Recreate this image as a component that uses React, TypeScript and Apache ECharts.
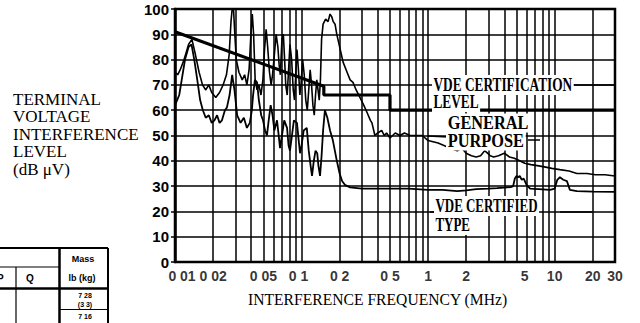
import React, { useEffect, useRef } from "react";
import * as echarts from "echarts";

// ---- Data ----
const yTicks = [0, 10, 20, 30, 40, 50, 60, 70, 80, 90, 100];

const xLabelFreqs = [0.01, 0.02, 0.05, 0.1, 0.2, 0.5, 1, 2, 5, 10, 20, 30];
const xLabelTexts = ["0 01", "0 02", "0 05", "0 1", "0 2", "0 5", "1", "2", "5", "10", "20", "30"];

const gridFreqs = [
  0.02, 0.03, 0.04, 0.05, 0.06, 0.07, 0.08, 0.09, 0.1,
  0.2, 0.3, 0.4, 0.5, 0.6, 0.7, 0.8, 0.9, 1,
  2, 3, 4, 5, 6, 7, 8, 9, 10, 20,
];

const vdeLevelFreq = [0.01, 0.15, 0.15, 0.5, 0.5, 30];
const vdeLevelVal = [91, 69.5, 66, 66, 60, 60];

const gpFreq = [
  0.01, 0.0105, 0.011, 0.0118, 0.0128, 0.0136, 0.0145, 0.0155, 0.0165, 0.0175,
  0.0185, 0.0195, 0.021, 0.0225, 0.024, 0.0255, 0.0268, 0.0277, 0.0283, 0.029,
  0.0297, 0.0305, 0.032, 0.034, 0.0355, 0.037, 0.0385, 0.0398, 0.0408, 0.0418,
  0.043, 0.0445, 0.046, 0.0478, 0.0495, 0.051, 0.0525, 0.054, 0.0558, 0.0575,
  0.059, 0.061, 0.063, 0.065, 0.0665, 0.068, 0.07, 0.0718, 0.0735, 0.075,
  0.077, 0.079, 0.081, 0.0835, 0.086, 0.088, 0.09, 0.092, 0.0945, 0.097,
  0.099, 0.102, 0.105, 0.108, 0.111, 0.114, 0.117, 0.12, 0.123, 0.126,
  0.129, 0.132, 0.135, 0.138, 0.141, 0.144, 0.148, 0.155, 0.162, 0.168,
  0.173, 0.178, 0.184, 0.19, 0.2, 0.213, 0.229, 0.242, 0.255, 0.27,
  0.29, 0.31, 0.33, 0.35, 0.36, 0.38, 0.4, 0.43, 0.45, 0.47,
  0.5, 0.55, 0.6, 0.65, 0.72, 0.8, 0.9, 1.0, 1.2, 1.5,
  1.7, 1.85, 2.0, 2.2, 2.4, 2.6, 2.8, 2.95, 3.1, 3.3,
  3.6, 4.0, 4.4, 4.8, 5.3, 5.8, 6.5, 7.5, 8.5, 9.5,
  11, 13, 15, 18, 21, 25, 30,
];
const gpVal = [
  75, 74, 76, 80, 86, 88, 82, 75, 70, 68,
  70, 67, 65, 67, 70, 74, 82, 95, 100, 100,
  90, 80, 75, 72, 74, 70, 76, 90, 98, 90,
  72, 68, 70, 66, 72, 84, 92, 85, 75, 70,
  74, 82, 90, 85, 78, 74, 88, 90, 80, 70,
  66, 76, 86, 80, 68, 64, 74, 84, 76, 66,
  70, 80, 74, 64, 60, 68, 76, 70, 62, 58,
  66, 72, 68, 64, 72, 88, 94, 96, 95, 98,
  97, 95, 94, 90, 85, 79, 75, 72, 71, 68,
  65, 62, 59, 56, 55, 50, 51, 52, 50, 51,
  49, 51, 50, 51, 50, 50, 50, 48, 47, 45,
  44, 45, 43, 42, 41.5, 42, 44, 43, 42, 41.5,
  42, 43, 41.5, 41, 40, 39, 38.5, 38, 37.5, 37,
  36.5, 36, 35, 35, 34.5, 34.5, 34,
];

const ctFreq = [
  0.01, 0.0104, 0.0108, 0.0113, 0.012, 0.0128, 0.0135, 0.0142, 0.015, 0.0158,
  0.0166, 0.0175, 0.0185, 0.0195, 0.0205, 0.0215, 0.0225, 0.0235, 0.0248, 0.0257,
  0.027, 0.0283, 0.0295, 0.031, 0.033, 0.035, 0.037, 0.039, 0.0405, 0.0414,
  0.0428, 0.0445, 0.046, 0.048, 0.0496, 0.0515, 0.0533, 0.055, 0.057, 0.059,
  0.061, 0.064, 0.066, 0.0676, 0.07, 0.073, 0.0768, 0.079, 0.081, 0.084,
  0.087, 0.092, 0.095, 0.0973, 0.1, 0.104, 0.11, 0.114, 0.118, 0.121,
  0.125, 0.129, 0.133, 0.136, 0.14, 0.144, 0.148, 0.153, 0.16, 0.168,
  0.177, 0.19, 0.2, 0.209, 0.22, 0.242, 0.3, 0.4, 0.5, 0.7,
  1.0, 1.3, 1.7, 2.0, 2.4, 3.0, 3.5, 4.0, 4.5, 4.7,
  4.85, 5.0, 5.15, 5.3, 5.5, 5.7, 6.0, 6.4, 7.5, 9.2,
  10.0, 10.5, 11.0, 11.7, 12.5, 13.2, 15, 20, 30,
];
const ctVal = [
  62, 64, 66, 72, 80, 85, 86, 80, 72, 64,
  60, 57, 58, 55, 56, 58, 55, 56, 60, 61,
  66, 74, 68, 58, 55, 57, 53, 55, 60, 66,
  72, 71, 64, 58, 56, 52, 50, 56, 62, 58,
  52, 56, 50, 45, 50, 56, 53, 46, 44, 50,
  56, 55, 48, 43, 46, 52, 53, 44, 38, 34,
  40, 44, 43, 38, 34, 42, 52, 60, 57, 52,
  48, 40, 35, 32, 30.5, 29.5, 29, 29, 29, 29,
  28.5, 28.5, 28, 28.3, 28.8, 29, 29.2, 29.4, 29.6, 30,
  33, 34, 33.5, 34, 32.5, 33, 30.5, 29, 28.8, 28.5,
  29, 32.5, 33.5, 32.5, 32, 28.5, 28, 27.8, 27.7,
];

const titleLines = ["TERMINAL", "VOLTAGE", "INTERFERENCE", "LEVEL", "(dB \u03bcV)"];

const zip = (xs: number[], ys: number[]) => xs.map((x, i) => [x, ys[i]]);

const SERIF = '"Liberation Serif", "Times New Roman", serif';
const SANS = '"Liberation Sans", Arial, sans-serif';

// small horizontal nudges of a few tick labels, as printed in the scan
const labelNudge: Record<string, number> = { "0 01": 7, "0 1": -3, "5": 8 };

function txt(text: string, x: number, y: number, font: string, opts: any = {}) {
  return {
    type: "text",
    x,
    y,
    z: 100,
    scaleX: opts.scaleX ?? 1,
    silent: true,
    style: {
      text,
      font,
      fill: "#000",
      align: opts.align ?? "left",
      verticalAlign: "middle",
      backgroundColor: opts.bg,
      padding: opts.padding,
    },
  };
}

function ln(x1: number, y1: number, x2: number, y2: number, w = 1.5) {
  return {
    type: "line",
    z: 100,
    silent: true,
    shape: { x1, y1, x2, y2 },
    style: { stroke: "#000", lineWidth: w },
  };
}

export default function App() {
  const ref = useRef<HTMLDivElement>(null);

  useEffect(() => {
    if (!ref.current) return;
    const chart = echarts.init(ref.current, null, { renderer: "svg" });

    const graphics: any[] = [];
    titleLines.forEach((t, i) => {
      graphics.push(txt(t, 13, 99 + i * 17.5, `17px ${SERIF}`));
    });
    // x-axis name
    graphics.push(txt("INTERFERENCE FREQUENCY (MHz)", 248, 299, `17px ${SERIF}`, { scaleX: 0.92 }));

    // in-plot annotations
    const lblFont = `bold 18px ${SERIF}`;
    graphics.push(ln(570, 85, 614, 85, 1.5));
    graphics.push(txt("VDE CERTIFICATION", 432, 85, lblFont, { scaleX: 0.74, bg: "#fff", padding: [1, 2] }));
    graphics.push(txt("LEVEL", 432, 102, lblFont, { scaleX: 0.74, bg: "#fff", padding: [1, 2] }));
    graphics.push(ln(428, 136, 448, 137, 1.5));
    graphics.push(ln(528, 140, 540, 140, 1.5));
    graphics.push(txt("GENERAL", 446, 123, `bold 19px ${SERIF}`, { scaleX: 0.86, bg: "#fff", padding: [0, 2] }));
    graphics.push(txt("PURPOSE", 446, 141, `bold 19px ${SERIF}`, { scaleX: 0.86, bg: "#fff", padding: [0, 2] }));
    graphics.push(ln(560, 212, 592, 212, 1.5));
    graphics.push(ln(430, 212, 436, 212, 1.5));
    graphics.push(txt("VDE CERTIFIED", 434, 206, lblFont, { scaleX: 0.72, bg: "#fff", padding: [1, 2] }));
    graphics.push(txt("TYPE", 434, 225, lblFont, { scaleX: 0.72, bg: "#fff", padding: [1, 2] }));

    // table fragment (bottom-left)
    graphics.push(ln(0, 248, 108, 248, 2));
    graphics.push(ln(108, 248, 108, 323, 2));
    graphics.push(ln(59.5, 248, 59.5, 323, 2.5));
    graphics.push(ln(0, 267, 59.5, 267, 1.2));
    graphics.push(ln(16, 267, 16, 323, 1.2));
    graphics.push(ln(0, 288.5, 108, 288.5, 2.5));
    graphics.push(ln(59.5, 309.5, 108, 309.5, 1.2));
    graphics.push(txt("P", -3, 278, `bold 10px ${SANS}`));
    graphics.push(txt("Q", 30, 278, `bold 10px ${SANS}`, { align: "center" }));
    graphics.push(txt("Mass", 83, 259, `bold 9px ${SANS}`, { align: "center" }));
    graphics.push(txt("lb (kg)", 82, 278, `bold 9px ${SANS}`, { align: "center" }));
    graphics.push(txt("7 28", 85, 295, `bold 7px ${SANS}`, { align: "center" }));
    graphics.push(txt("(3 3)", 85, 304, `bold 7px ${SANS}`, { align: "center" }));
    graphics.push(txt("7 16", 85, 316, `bold 7px ${SANS}`, { align: "center" }));

    const option: any = {
      animation: false,
      backgroundColor: "#fff",
      grid: {
        left: 175,
        right: 25,
        top: 9,
        bottom: 61,
        show: true,
        borderColor: "#000",
        borderWidth: 2.5,
        backgroundColor: "transparent",
      },
      xAxis: {
        type: "log",
        logBase: 10,
        min: 0.01,
        max: 30,
        axisLine: { show: false },
        axisTick: { show: false },
        axisLabel: { show: false },
        splitLine: { show: false },
      },
      yAxis: {
        type: "value",
        min: yTicks[0],
        max: yTicks[yTicks.length - 1],
        interval: 10,
        axisLine: { show: true, lineStyle: { color: "#000", width: 2.5 } },
        axisTick: { show: true, length: 4, lineStyle: { color: "#000", width: 1.5 } },
        axisLabel: {
          color: "#000",
          fontFamily: SANS,
          fontWeight: "bold",
          fontSize: 15,
          margin: 6,
        },
        splitLine: { show: true, lineStyle: { color: "#000", width: 1.5 } },
      },
      series: [
        {
          name: "grid",
          type: "line",
          data: [],
          z: 1,
          silent: true,
          markLine: {
            silent: true,
            symbol: ["none", "none"],
            label: { show: false },
            lineStyle: { color: "#000", width: 1.5, type: "solid" },
            data: gridFreqs.map((f) => ({ xAxis: f })),
          },
        },
        {
          name: "VDE CERTIFICATION LEVEL",
          type: "line",
          data: zip(vdeLevelFreq, vdeLevelVal),
          symbol: "none",
          z: 4,
          lineStyle: { color: "#000", width: 3.2 },
        },
        {
          name: "GENERAL PURPOSE",
          type: "line",
          data: zip(gpFreq, gpVal),
          symbol: "none",
          z: 3,
          lineStyle: { color: "#000", width: 1.6 },
        },
        {
          name: "VDE CERTIFIED TYPE",
          type: "line",
          data: zip(ctFreq, ctVal),
          symbol: "none",
          z: 3,
          lineStyle: { color: "#000", width: 1.8 },
        },
        {
          name: "xlabels",
          type: "scatter",
          data: xLabelFreqs.map((f, i) => {
            const d = labelNudge[xLabelTexts[i]] || 0;
            return {
              value: [f, 0],
              label: {
                padding: d >= 0 ? [0, 0, 0, 2 * d] : [0, -2 * d, 0, 0],
              },
            };
          }),
          symbolSize: 1,
          itemStyle: { color: "rgba(0,0,0,0)" },
          silent: true,
          clip: false,
          z: 5,
          label: {
            show: true,
            position: "bottom",
            distance: 6,
            color: "#000",
            fontFamily: SANS,
            fontWeight: "bold",
            fontSize: 14,
            formatter: (p: any) => xLabelTexts[p.dataIndex],
          },
          labelLayout: { hideOverlap: false },
        },
      ],
      graphic: { elements: graphics },
    };

    chart.setOption(option);
    return () => chart.dispose();
  }, []);

  return (
    <div
      ref={ref}
      style={{ position: "fixed", left: 0, top: 0, width: 640, height: 323, background: "#fff" }}
    />
  );
}
